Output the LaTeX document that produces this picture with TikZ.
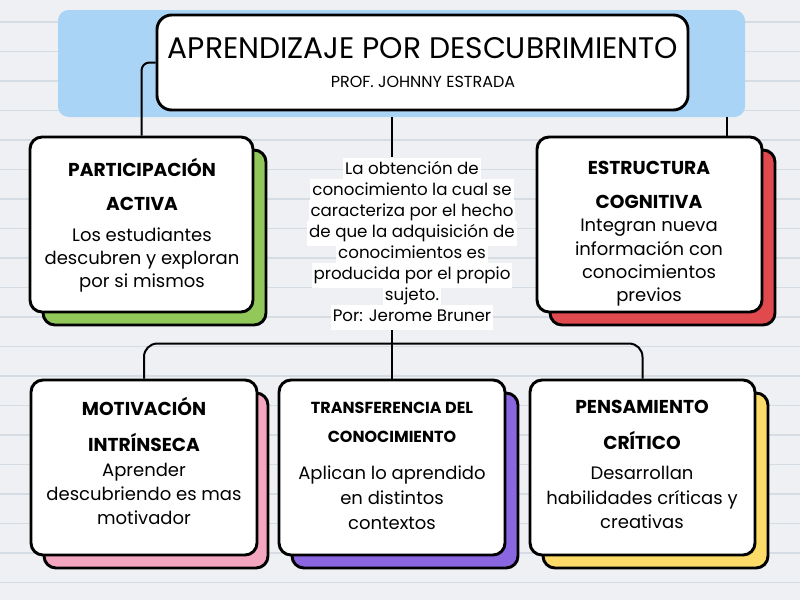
\documentclass[tikz,border=0pt]{standalone}
\usepackage{fontspec}
\setmainfont{Poppins}
\usetikzlibrary{fit,calc}
\definecolor{bgc}{HTML}{EEF0F3}
\definecolor{rulec}{HTML}{D6DCE4}
\definecolor{bannerc}{HTML}{AAD4F6}
\definecolor{cgreen}{HTML}{92C859}
\definecolor{cred}{HTML}{E04A4F}
\definecolor{cpink}{HTML}{F4A6C0}
\definecolor{cpurple}{HTML}{8A66E0}
\definecolor{cyellow}{HTML}{FCDB69}
\lineskiplimit=-100pt
\newcommand\wline[1]{\colorbox{white}{\strut #1}}
\tikzset{
  conn/.style={draw=black, line width=1.5pt},
  card/.style={draw=black, line width=2.2pt, fill=white, rounded corners=9pt, inner sep=0pt},
  cardshadow/.style={draw=black, line width=2.2pt, rounded corners=9pt, inner sep=0pt},
  hdtext/.style={font=\fontsize{14}{25.5}\selectfont\bfseries, align=center, inner sep=0pt},
  bdtext/.style={font=\fontsize{13.5}{17}\selectfont, align=center, inner sep=0pt},
}
\begin{document}
\begin{tikzpicture}[x=0.75pt, y=-0.75pt]
\useasboundingbox (0,0) rectangle (800,600);
\fill[bgc] (0,0) rectangle (800,600);
\foreach \yy in {22,51.5,...,595} \draw[rulec, line width=0.8pt] (0,\yy) -- (800,\yy);

% banner and title
\node[fill=bannerc, rounded corners=8pt, inner sep=0pt, fit={(58,10)(745,117)}] (banner) {};
\node[card, rounded corners=11pt, fit={(157,15)(688,110)}] (title) {};
\node[font=\fontsize{22.3}{22.3}\selectfont, inner sep=0pt] (ttl) at (423,48) {APRENDIZAJE POR DESCUBRIMIENTO};
\node[font=\fontsize{12}{12}\selectfont, inner sep=0pt] (sub) at (423,82) {PROF. JOHNNY ESTRADA};

% Participacion activa
\node[cardshadow, fill=cgreen, fit={(43,150)(266,325)}] (partsh) {};
\node[card, fit={(30,137)(253,312)}] (part) {};
\node[hdtext] (parth) at (142,184) {PARTICIPACIÓN\\ACTIVA};
\node[bdtext] (partb) at (142,260) {Los estudiantes\\descubren y exploran\\por si mismos};

% Estructura cognitiva
\node[cardshadow, fill=cred, fit={(550,150)(775,325)}] (estsh) {};
\node[card, fit={(537,137)(762,312)}] (est) {};
\node[hdtext] (esth) at (649,185) {ESTRUCTURA\\COGNITIVA};
\node[bdtext, font=\fontsize{13.5}{17.5}\selectfont] (estb) at (649,263) {Integran nueva\\información con\\conocimientos\\previos};

% Motivacion intrinseca
\node[cardshadow, fill=cpink, fit={(44,393)(268,568)}] (motsh) {};
\node[card, fit={(31,380)(257,555)}] (mot) {};
\node[hdtext, font=\fontsize{14}{27}\selectfont\bfseries] (moth) at (144,424) {MOTIVACIÓN\\INTRÍNSECA};
\node[bdtext, font=\fontsize{13.5}{18}\selectfont] (motb) at (144,494) {Aprender\\descubriendo es mas\\motivador};

% Transferencia del conocimiento
\node[cardshadow, fill=cpurple, fit={(292,393)(518,568)}] (trash) {};
\node[card, fit={(279,380)(505,555)}] (tra) {};
\node[hdtext, font=\fontsize{12}{22}\selectfont\bfseries] (trah) at (392,422.5) {TRANSFERENCIA DEL\\CONOCIMIENTO};
\node[bdtext, font=\fontsize{13.5}{18.75}\selectfont] (trab) at (392,498) {Aplican lo aprendido\\en distintos\\contextos};

% Pensamiento critico
\node[cardshadow, fill=cyellow, fit={(543,393)(768,568)}] (pensh) {};
\node[card, fit={(530,380)(755,555)}] (pen) {};
\node[hdtext, font=\fontsize{14}{27}\selectfont\bfseries] (penh) at (642,425) {PENSAMIENTO\\CRÍTICO};
\node[bdtext, font=\fontsize{13.5}{18.5}\selectfont] (penb) at (642,497.5) {Desarrollan\\habilidades críticas y\\creativas};

% center text
\setlength{\fboxsep}{1.5pt}
\node[font=\fontsize{12.5}{15.75}\selectfont, align=center, inner sep=0pt] (center) at (412,243.5)
 {\wline{La obtención de}\\\wline{conocimiento la cual se}\\\wline{caracteriza por el hecho}\\\wline{de que la adquisición de}\\\wline{conocimientos es}\\\wline{producida por el propio}\\\wline{sujeto.}\\\wline{Por: Jerome Bruner}};

% connectors
\coordinate (estp) at ($(est.north west)!0.84!(est.north east)$);
\coordinate (cx) at (tra.north);
\coordinate (bus) at ($(cx)+(0,-35)$);
\draw[conn, rounded corners=6pt] (title.west) -| (part.north);
\draw[conn] (banner.south -| estp) -- (estp);
\draw[conn] (banner.south -| cx) -- (center.north -| cx);
\draw[conn] (center.south -| cx) -- (cx);
\draw[conn, rounded corners=10pt] (mot.north) |- (bus) -| (pen.north);
\end{tikzpicture}
\end{document}
